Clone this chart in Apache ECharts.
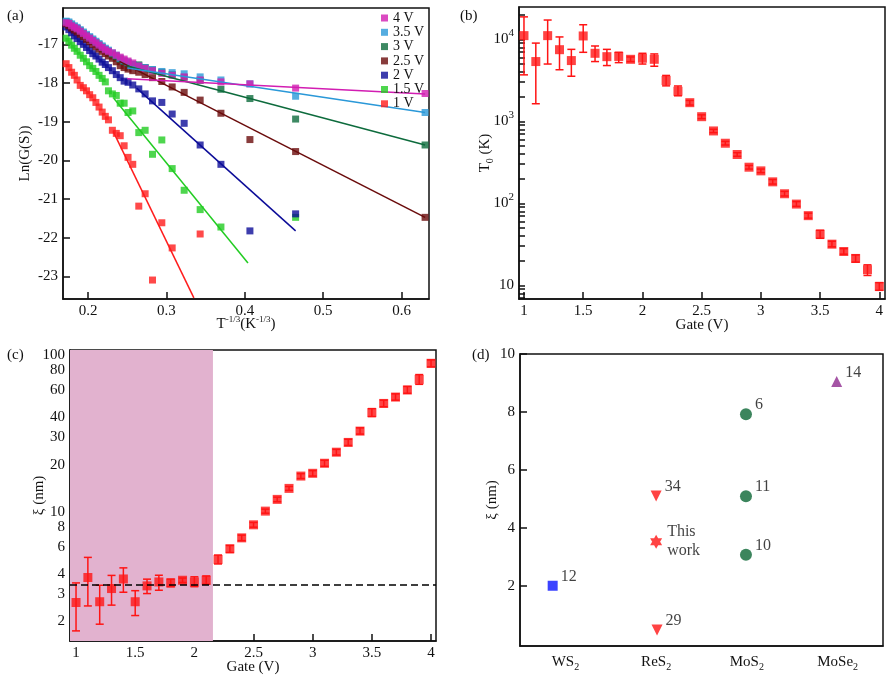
<!DOCTYPE html>
<html>
<head>
<meta charset="utf-8">
<script src="https://cdn.jsdelivr.net/npm/echarts@6.0.0/dist/echarts.min.js"></script>
<style>
html, body { margin: 0; padding: 0; background: #fff; }
#cn { width: 892px; height: 681px; }
</style>
</head>
<body>
<div id="cn"></div>
<script>
'use strict';

/*
 * (a) Ln(G) vs T^-1/3 for each gate voltage
 */
const XA = [0.172, 0.1755, 0.179, 0.1825, 0.186, 0.19, 0.194, 0.198, 0.202, 0.206, 0.21, 0.214, 0.218, 0.222, 0.226,
    0.231, 0.236, 0.241, 0.246, 0.251, 0.257, 0.2647, 0.2728, 0.2822, 0.2941, 0.3073, 0.3226, 0.343, 0.3695, 0.4065, 0.4648, 0.630];

const Y_4V = [-16.44, -16.46, -16.52, -16.56, -16.60, -16.66, -16.72, -16.78, -16.84, -16.90, -16.96, -17.02, -17.08, -17.14, -17.18,
    -17.22, -17.28, -17.33, -17.38, -17.43, -17.48, -17.56, -17.62, -17.68, -17.75, -17.80, -17.84, -17.92, -17.97, -18.02, -18.13, -18.27];
const Y_35V = [-16.40, -16.42, -16.47, -16.52, -16.56, -16.62, -16.68, -16.74, -16.80, -16.86, -16.92, -16.98, -17.04, -17.10, -17.15,
    -17.22, -17.28, -17.36, -17.42, -17.46, -17.52, -17.56, -17.60, -17.65, -17.70, -17.73, -17.76, -17.84, -17.92, -18.02, -18.34, -18.76];
const Y_3V = [-16.42, -16.45, -16.50, -16.55, -16.59, -16.65, -16.71, -16.77, -16.83, -16.89, -16.95, -17.01, -17.07, -17.13, -17.18,
    -17.25, -17.31, -17.38, -17.44, -17.48, -17.52, -17.53, -17.60, -17.66, -17.72, -17.78, -17.85, -17.93, -18.16, -18.40, -18.93, -19.60];
const Y_25V = [-16.47, -16.52, -16.58, -16.63, -16.68, -16.74, -16.80, -16.87, -16.93, -17.00, -17.06, -17.12, -17.18, -17.24, -17.30,
    -17.36, -17.45, -17.55, -17.60, -17.64, -17.68, -17.72, -17.78, -17.86, -17.96, -18.10, -18.24, -18.44, -18.78, -19.46, -19.77, -21.47];
const Y_2V = [-16.55, -16.62, -16.70, -16.78, -16.85, -16.93, -17.00, -17.08, -17.16, -17.24, -17.30, -17.38, -17.46, -17.52, -17.60,
    -17.68, -17.78, -17.86, -17.95, -17.98, -18.05, -18.15, -18.28, -18.46, -18.50, -18.80, -19.04, -19.60, -20.10, -21.82, -21.38, null];
const Y_15V = [-16.84, -16.92, -17.02, -17.10, -17.18, -17.28, -17.36, -17.45, -17.55, -17.62, -17.70, -17.80, -17.88, -17.97, -18.20,
    -18.28, -18.32, -18.52, -18.52, -18.76, -18.72, -19.28, -19.22, -19.84, -19.47, -20.21, -20.77, -21.27, -21.72, null, -21.47, null];
const Y_1V = [-17.50, -17.60, -17.72, -17.80, -17.92, -18.06, -18.12, -18.20, -18.30, -18.38, -18.50, -18.62, -18.75, -18.86, -18.95,
    -19.22, -19.30, -19.36, -19.62, -19.92, -20.10, -21.18, -20.86, -23.09, -21.61, -22.26, null, -21.90, null, null, null, null];

// straight fits, [start, end]
const FIT_4V = [[0.25, -17.89], [0.630, -18.28]];
const FIT_35V = [[0.25, -17.61], [0.630, -18.76]];
const FIT_3V = [[0.25, -17.56], [0.630, -19.60]];
const FIT_25V = [[0.24, -17.44], [0.630, -21.47]];
const FIT_2V = [[0.262, -18.13], [0.4648, -21.82]];
const FIT_15V = [[0.233, -18.40], [0.404, -22.65]];
const FIT_1V = [[0.232, -19.25], [0.335, -23.55]];

const NAMES_A = ['4 V', '3.5 V', '3 V', '2.5 V', '2 V', '1.5 V', '1 V'];
const YS_A = [Y_4V, Y_35V, Y_3V, Y_25V, Y_2V, Y_15V, Y_1V];
const FITS_A = [FIT_4V, FIT_35V, FIT_3V, FIT_25V, FIT_2V, FIT_15V, FIT_1V];
const TICKS_AX = [0.2, 0.3, 0.4, 0.5, 0.6];
const TICKS_AY = [-23, -22, -21, -20, -19, -18, -17];

/*
 * (b) T0 and (c) xi vs gate
 */
const GATE = [1.0, 1.1, 1.2, 1.3, 1.4, 1.5, 1.6, 1.7, 1.8, 1.9, 2.0, 2.1, 2.2, 2.3, 2.4, 2.5,
    2.6, 2.7, 2.8, 2.9, 3.0, 3.1, 3.2, 3.3, 3.4, 3.5, 3.6, 3.7, 3.8, 3.9, 4.0];

const T0 = [11100, 5360, 11100, 7480, 5510, 11000, 6760, 6150, 6190, 5710, 5880, 5710, 3150, 2330, 1690, 1140,
    764, 541, 394, 276, 249, 183, 131, 98, 70.8, 42, 31.8, 25.9, 21.3, 15.5, 9.7];
const T0_HI = [18800, 9000, 17200, 10700, 7550, 15070, 8300, 7550, 6950, 6100, 6760, 6640, 3630, 2700, 1800, 1200,
    800, 570, 415, 290, 262, 195, 140, 105, 76, 47, 34.5, 28, 23.5, 17.8, 10.8];
const T0_LO = [3690, 1640, 5000, 4260, 3550, 6950, 5360, 4790, 5200, 5350, 5000, 4700, 2710, 2050, 1580, 1080,
    728, 515, 375, 262, 237, 172, 123, 92, 66, 37.5, 29.5, 24, 19.2, 13.2, 8.7];

const XI = [2.64, 3.81, 2.67, 3.24, 3.73, 2.67, 3.37, 3.57, 3.52, 3.66, 3.57, 3.66, 4.97, 5.81, 6.82, 8.26,
    10.1, 12.0, 14.1, 16.9, 17.6, 20.4, 24.0, 27.7, 32.7, 42.9, 49.1, 53.9, 59.8, 69.9, 88.5];
const XI_HI = [3.52, 5.12, 3.40, 3.93, 4.39, 3.14, 3.72, 3.94, 3.72, 3.78, 3.85, 3.90, 5.30, 6.10, 7.10, 8.55,
    10.4, 12.4, 14.5, 17.5, 18.3, 21.3, 25.0, 29.0, 34.3, 45.5, 51.5, 56.5, 63.0, 75.0, 93.0];
const XI_LO = [1.74, 2.51, 1.92, 2.54, 3.07, 2.18, 3.01, 3.16, 3.33, 3.54, 3.33, 3.45, 4.65, 5.50, 6.55, 7.98,
    9.8, 11.6, 13.7, 16.3, 16.9, 19.5, 23.0, 26.5, 31.3, 40.5, 46.8, 51.5, 57.0, 65.0, 84.0];
const XI_FLOOR = 3.45;      // dashed line
const SHADE_END = 2.157;    // end of shaded gate range

const TICKS_GATE = [1, 1.5, 2, 2.5, 3, 3.5, 4];
const LABELS_B = [10, 100, 1000, 10000];
const TICKPOS_B = [7, 8, 9, 10, 20, 30, 40, 50, 60, 70, 80, 90, 100, 200, 300, 400, 500, 600, 700, 800, 900,
    1000, 2000, 3000, 4000, 5000, 6000, 7000, 8000, 9000, 10000, 20000];
const LABELS_C = [2, 3, 4, 6, 8, 10, 20, 30, 40, 60, 80, 100];
const TICKPOS_C = [2, 3, 4, 5, 6, 7, 8, 9, 10, 20, 30, 40, 50, 60, 70, 80, 90, 100];

/*
 * (d) xi for different materials
 */
const D_CATS = ['WS2', 'ReS2', 'MoS2', 'MoSe2'];
const D_X = [-0.14, 1.0, 1.0, 1.01, 1.99, 1.99, 1.99, 2.99];
const D_Y = [2.0, 5.1, 3.52, 0.47, 7.92, 5.09, 3.07, 9.05];
const D_TAG = ['12', '34', 'This\nwork', '29', '6', '11', '10', '14'];
const D_KIND = ['ws2', 'res2', 'this', 'res2', 'mos2', 'mos2', 'mos2', 'mose2'];
const TICKS_D = [2, 4, 6, 8, 10];

//style
const FONT = 'Liberation Serif';
const INK = '#111';
const RED = '#ff1414';
const COLORS_A = ['#d21db2', '#2a98d8', '#0d6b3c', '#6a0b0b', '#0c0c98', '#22cc22', '#ff1c1c'];
const HEXAGRAM = 'path://M0,-10L8.66,5L-8.66,5Z M0,10L-8.66,-5L8.66,-5Z';
const D_STYLE = {
    ws2: { symbol: 'rect', size: 10, rotate: 0, color: '#0a14ff' },
    res2: { symbol: 'triangle', size: 11, rotate: 180, color: RED },
    this: { symbol: HEXAGRAM, size: [12, 14], rotate: 0, color: RED },
    mos2: { symbol: 'circle', size: 12, rotate: 0, color: '#0b6634' },
    mose2: { symbol: 'triangle', size: 11, rotate: 0, color: '#8e2a8e' }
};

const RICH = {
    sup: { fontSize: 11, fontFamily: FONT, color: INK, verticalAlign: 'top', padding: [0, 0, 12, 0] },
    sx: { fontSize: 9, fontFamily: FONT, color: INK, verticalAlign: 'top', padding: [0, 0, 10, 0] },
    sub: { fontSize: 10, fontFamily: FONT, color: INK, verticalAlign: 'bottom', padding: [9, 0, 0, 0] }
};

function axis(gi, type, min, max, labels, fmt, ticks) {
    return {
        type: type,
        gridIndex: gi,
        min: min,
        max: max,
        splitLine: { show: false },
        axisLine: { show: true, onZero: false, lineStyle: { color: INK, width: 1.5 } },
        axisTick: { show: true, inside: true, length: ticks ? 6 : 7, customValues: ticks || labels, lineStyle: { color: INK, width: 1.5 } },
        axisLabel: { customValues: labels, formatter: fmt, color: INK, fontFamily: FONT, fontSize: 15, margin: 5, rich: RICH },
        nameTextStyle: { color: INK, fontFamily: FONT, fontSize: 15, rich: RICH },
        nameLocation: 'middle',
        nameMoveOverlap: false
    };
}

function renderErr(params, api) {
    const x = api.value(0);
    const lo = api.coord([x, api.value(1)]);
    const hi = api.coord([x, api.value(2)]);
    const w = 4;
    const style = { stroke: RED, lineWidth: 1.5 };
    return {
        type: 'group',
        children: [
            { type: 'line', shape: { x1: lo[0], y1: lo[1], x2: hi[0], y2: hi[1] }, style: style },
            { type: 'line', shape: { x1: lo[0] - w, y1: lo[1], x2: lo[0] + w, y2: lo[1] }, style: style },
            { type: 'line', shape: { x1: hi[0] - w, y1: hi[1], x2: hi[0] + w, y2: hi[1] }, style: style }
        ]
    };
}

const fmtPlain = v => String(v);
const fmtPow = v => (v === 10 ? '10' : '10{sup|' + Math.round(Math.log10(v)) + '}');
const fmtCat = v => D_CATS[Math.round(v)].replace(/2$/, '{sub|2}');

//series
const series = [];

for (let i = NAMES_A.length - 1; i >= 0; i--) {
    series.push({
        name: NAMES_A[i],
        type: 'scatter',
        xAxisIndex: 0,
        yAxisIndex: 0,
        symbol: 'rect',
        symbolSize: 7,
        itemStyle: { color: COLORS_A[i] },
        data: XA.map((x, k) => [x, YS_A[i][k]]).filter(d => d[1] !== null),
        z: 2
    });
}
for (let i = NAMES_A.length - 1; i >= 0; i--) {
    series.push({
        name: NAMES_A[i] + ' fit',
        type: 'line',
        xAxisIndex: 0,
        yAxisIndex: 0,
        showSymbol: false,
        lineStyle: { color: COLORS_A[i], width: 1.5 },
        data: FITS_A[i],
        z: 3
    });
}

// (b)
series.push({
    type: 'custom',
    xAxisIndex: 1,
    yAxisIndex: 1,
    renderItem: renderErr,
    encode: { x: 0, y: [1, 2] },
    data: GATE.map((g, k) => [g, T0_LO[k], T0_HI[k]]),
    z: 2
});
series.push({
    type: 'scatter',
    xAxisIndex: 1,
    yAxisIndex: 1,
    symbol: 'rect',
    symbolSize: 9,
    itemStyle: { color: RED },
    data: GATE.map((g, k) => [g, T0[k]]),
    z: 3
});

// (c)
series.push({
    type: 'custom',
    xAxisIndex: 2,
    yAxisIndex: 2,
    renderItem: renderErr,
    encode: { x: 0, y: [1, 2] },
    data: GATE.map((g, k) => [g, XI_LO[k], XI_HI[k]]),
    z: 2
});
series.push({
    type: 'scatter',
    xAxisIndex: 2,
    yAxisIndex: 2,
    symbol: 'rect',
    symbolSize: 9,
    itemStyle: { color: RED },
    data: GATE.map((g, k) => [g, XI[k]]),
    z: 3,
    markArea: {
        silent: true,
        itemStyle: { color: '#e2b2cf' },
        data: [[{ xAxis: 0.949 }, { xAxis: SHADE_END }]]
    },
    markLine: {
        silent: true,
        symbol: 'none',
        label: { show: false },
        lineStyle: { color: '#000', type: [7, 4], width: 1.5 },
        data: [{ yAxis: XI_FLOOR }]
    }
});

// (d)
['ws2', 'res2', 'this', 'mos2', 'mose2'].forEach(kind => {
    const st = D_STYLE[kind];
    const data = [];
    D_KIND.forEach((k, i) => {
        if (k !== kind) return;
        data.push({
            value: [D_X[i], D_Y[i]],
            label: {
                show: true,
                formatter: D_TAG[i],
                position: 'right',
                distance: 3,
                offset: kind === 'this' ? [2, 0] : [0, -9],
                color: INK,
                fontFamily: FONT,
                fontSize: 16,
                lineHeight: 19
            }
        });
    });
    series.push({
        type: 'scatter',
        xAxisIndex: 3,
        yAxisIndex: 3,
        symbol: st.symbol,
        symbolSize: st.size,
        symbolRotate: st.rotate,
        itemStyle: { color: st.color },
        data: data
    });
});

const gridBox = { show: true, borderColor: INK, borderWidth: 1.5, backgroundColor: 'transparent' };

const xA = Object.assign(axis(0, 'value', 0.168, 0.635, TICKS_AX, fmtPlain), {
    name: 'T{sx|-1/3}(K{sx|-1/3})', nameGap: 16
});
const yA = Object.assign(axis(0, 'value', -23.58, -16.06, TICKS_AY, fmtPlain), {
    name: 'Ln(G(S))', nameGap: 30
});
const xB = Object.assign(axis(1, 'value', 0.958, 4.048, TICKS_GATE, fmtPlain), {
    name: 'Gate (V)', nameGap: 19
});
const yB = Object.assign(axis(1, 'log', 6.82, 24800, LABELS_B, fmtPow, TICKPOS_B), {
    name: 'T{sub|0} (K)', nameGap: 24
});
const xC = Object.assign(axis(2, 'value', 0.949, 4.042, TICKS_GATE, fmtPlain), {
    name: 'Gate (V)', nameGap: 19
});
const yC = Object.assign(axis(2, 'log', 1.5, 107.6, LABELS_C, fmtPlain, TICKPOS_C), {
    name: 'ξ (nm)', nameGap: 23
});
const xD = axis(3, 'value', -0.5, 3.5, [0, 1, 2, 3], fmtCat);
xD.axisTick.show = false;
xD.axisLabel.margin = 7;
const yD = Object.assign(axis(3, 'value', -0.08, 10, TICKS_D, fmtPlain), {
    name: 'ξ (nm)', nameGap: 20
});

const option = {
    animation: false,
    backgroundColor: '#fff',
    textStyle: { fontFamily: FONT },
    grid: [
        Object.assign({ left: 63, top: 8, width: 366, height: 291 }, gridBox),
        Object.assign({ left: 519, top: 7, width: 366, height: 292 }, gridBox),
        Object.assign({ left: 70, top: 350, width: 366, height: 291 }, gridBox),
        Object.assign({ left: 520, top: 354, width: 363, height: 292 }, gridBox)
    ],
    xAxis: [xA, xB, xC, xD],
    yAxis: [yA, yB, yC, yD],
    legend: {
        data: NAMES_A,
        orient: 'vertical',
        left: 381,
        top: 11,
        icon: 'rect',
        itemWidth: 7,
        itemHeight: 7,
        itemGap: 0.3,
        padding: 0,
        selectedMode: false,
        textStyle: { color: INK, fontFamily: FONT, fontSize: 14, lineHeight: 11 }
    },
    graphic: [
        { type: 'text', left: 7, top: 9, style: { text: '(a)', fill: INK, font: '15px "Liberation Serif"' } },
        { type: 'text', left: 460, top: 9, style: { text: '(b)', fill: INK, font: '15px "Liberation Serif"' } },
        { type: 'text', left: 7, top: 348, style: { text: '(c)', fill: INK, font: '15px "Liberation Serif"' } },
        { type: 'text', left: 472, top: 348, style: { text: '(d)', fill: INK, font: '15px "Liberation Serif"' } }
    ],
    series: series
};

const chart = echarts.init(document.getElementById('cn'), null, { renderer: 'canvas' });
chart.setOption(option);
</script>
</body>
</html>
